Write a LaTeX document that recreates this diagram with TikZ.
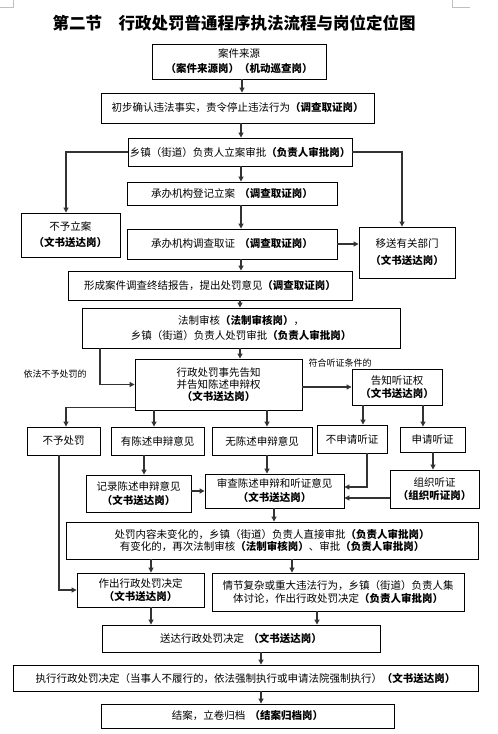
\documentclass[tikz,border=0pt]{standalone}
\usepackage{fontspec}
\setmainfont{Noto Sans CJK SC}
\usetikzlibrary{arrows.meta}
\begin{document}
\begin{tikzpicture}[x=1pt,y=-1pt,
 box/.style={draw=black,line width=0.9pt,inner sep=0pt,align=center,font=\fontsize{10.5}{13}\selectfont},
 wh/.style 2 args={minimum width=#1,minimum height=#2},
 ls/.style={font=\fontsize{10.5}{#1}\selectfont},
 arr/.style={draw=black!80,line width=1.1pt,-{Triangle[length=5pt,width=5pt]}},
 lab/.style={font=\fontsize{9}{11}\selectfont,inner sep=0pt}]
\useasboundingbox (0,0) rectangle (498,734);
% corner marks
\draw[black!25,line width=0.6pt] (13,0) -- (13,7) -- (0,7);
\draw[black!25,line width=0.6pt] (452,0) -- (452,7) -- (470,7);
% title
\node[font=\fontsize{16.5}{20}\selectfont\bfseries,inner sep=0pt] (title) at (234,23) {第二节\hspace{1em}行政处罚普通程序执法流程与岗位定位图};
% boxes
\node[box,wh={174}{35},ls=15] (src) at (239,61.5) {案件来源\\\textbf{（案件来源岗）（机动巡查岗）}};
\node[box,wh={273}{30}] (confirm) at (237.5,108) {初步确认违法事实，责令停止违法行为\textbf{（调查取证岗）}};
\node[box,wh={224}{28}] (approve) at (240,152) {乡镇（街道）负责人立案审批\textbf{（负责人审批岗）}};
\node[box,wh={210}{23}] (register) at (232,193.5) {承办机构登记立案\hspace{0.4em}\textbf{（调查取证岗）}};
\node[box,wh={99}{44},ls=16] (noreg) at (70.5,235) {不予立案\\\textbf{（文书送达岗）}};
\node[box,wh={210}{30}] (invest) at (232,244) {承办机构调查取证\hspace{0.4em}\textbf{（调查取证岗）}};
\node[box,wh={96}{51},ls=17] (transfer) at (407,252.5) {移送有关部门\\\textbf{（文书送达岗）}};
\node[box,wh={284}{29}] (report) at (210,285.5) {形成案件调查终结报告，提出处罚意见\textbf{（调查取证岗）}};
\node[box,wh={318}{40},ls=15] (review) at (241,328) {法制审核\textbf{（法制审核岗）}，\\乡镇（街道）负责人处罚审批\textbf{（负责人审批岗）}};
\node[box,wh={167}{51},ls=12] (notify) at (218.5,384.5) {行政处罚事先告知\\并告知陈述申辩权\\\textbf{（文书送达岗）}};
\node[box,wh={90}{36}] (hnotify) at (397,387) {告知听证权\\\textbf{（文书送达岗）}};
\node[box,wh={73}{28}] (nopen) at (63.5,441) {不予处罚};
\node[box,wh={93}{28}] (hasop) at (157.5,441) {有陈述申辩意见};
\node[box,wh={100}{28}] (noop) at (262,441) {无陈述申辩意见};
\node[box,wh={70}{28}] (nohear) at (352,439) {不申请听证};
\node[box,wh={65}{25}] (hear) at (432.5,439.5) {申请听证};
\node[box,wh={105}{37},ls=14] (record) at (138.5,493.5) {记录陈述申辩意见\\\textbf{（文书送达岗）}};
\node[box,wh={139}{34},ls=14] (examine) at (274.5,491) {审查陈述申辩和听证意见\\\textbf{（文书送达岗）}};
\node[box,wh={89}{38}] (organize) at (434.5,489) {组织听证\\\textbf{（组织听证岗）}};
\node[box,wh={412}{37},ls=11.5] (content) at (272,540.5) {处罚内容未变化的，乡镇（街道）负责人直接审批\textbf{（负责人审批岗）}\\有变化的，再次法制审核\textbf{（法制审核岗）}、审批\textbf{（负责人审批岗）}};
\node[box,wh={127}{34}] (decide) at (140.5,590) {作出行政处罚决定\\\textbf{（文书送达岗）}};
\node[box,wh={252}{38}] (complex) at (338,592) {情节复杂或重大违法行为，乡镇（街道）负责人集\\体讨论，作出行政处罚决定\textbf{（负责人审批岗）}};
\node[box,wh={278}{27}] (deliver) at (241,638.5) {送达行政处罚决定\hspace{0.4em}\textbf{（文书送达岗）}};
\node[box,wh={465}{26}] (execute) at (245.5,678) {执行行政处罚决定（当事人不履行的，依法强制执行或申请法院强制执行）\textbf{（文书送达岗）}};
\node[box,wh={293}{24}] (close) at (247.5,716) {结案，立卷归档\hspace{0.4em}\textbf{（结案归档岗）}};
% labels
\node[lab] (l1) at (55,374) {依法不予处罚的};
\node[lab] (l2) at (340,363) {符合听证条件的};
% helper coordinates
\foreach \v in {59,66,100,144,151,154,240,241,242,261,267,274,292,317,363,367,402,423,433}
  {\coordinate (x\v) at (\v,0);}
\coordinate (y498) at (0,498);
\coordinate (y491) at (0,491);
\coordinate (y487) at (0,487);
% connectors
\draw[arr] (src.south -| x242) -- (confirm.north -| x242);
\draw[arr] (confirm.south -| x241) -- (approve.north -| x241);
\draw[arr] (approve.south -| x241) -- (register.north -| x241);
\draw[arr] (register.south -| x241) -- (invest.north -| x241);
\draw[arr] (invest.south -| x241) -- (report.north -| x241);
\draw[arr] (report.south -| x240) -- (review.north -| x240);
\draw[arr] (review.south -| x240) -- (notify.north -| x240);
\draw[arr] (approve.west) -| (noreg.north -| x66);
\draw[arr] (approve.east) -| (transfer.north -| x402);
\draw[arr] (invest.east) -- (invest.east -| transfer.west);
\draw[arr] (review.south -| x100) |- (notify.west);
\draw[arr] (notify.east |- hnotify.west) -- (hnotify.west);
\draw[arr] ([yshift=3pt]notify.south west) -| (nopen.north -| x66);
\draw[arr] (notify.south -| x154) -- (hasop.north -| x154);
\draw[arr] (notify.south -| x267) -- (noop.north -| x267);
\draw[arr] (hnotify.south -| x363) -- (nohear.north -| x363);
\draw[arr] (hnotify.south -| x423) -- (hear.north -| x423);
\draw[arr] (hasop.south -| x144) -- (record.north -| x144);
\draw[arr] (noop.south -| x267) -- (examine.north -| x267);
\draw[arr] (nohear.south -| x367) |- (examine.east |- y487);
\draw[arr] (hear.south -| x433) -- (organize.north -| x433);
\draw[arr] (organize.west |- y498) -- (examine.east |- y498);
\draw[arr] (record.east |- y491) -- (examine.west |- y491);
\draw[arr] (nopen.south -| x59) |- (decide.west);
\draw[arr] (examine.south -| x274) -- (content.north -| x274);
\draw[arr] (content.south -| x151) -- (decide.north -| x151);
\draw[arr] (content.south -| x292) -- (complex.north -| x292);
\draw[arr] (decide.south -| x151) -- (deliver.north -| x151);
\draw[arr] (complex.south -| x317) -- (deliver.north -| x317);
\draw[arr] (deliver.south -| x261) -- (execute.north -| x261);
\draw[arr] (execute.south -| x261) -- (close.north -| x261);
\end{tikzpicture}
\end{document}
